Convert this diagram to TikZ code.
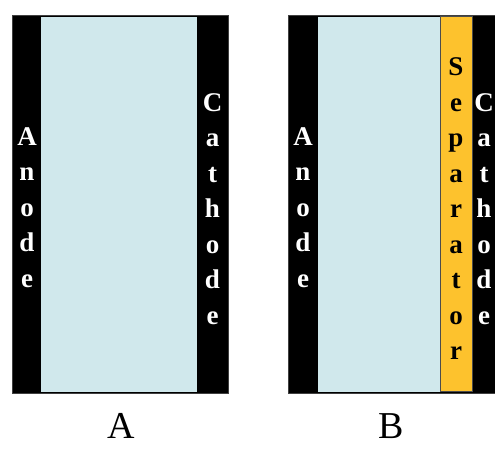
\documentclass[tikz,border=0pt]{standalone}
\usepackage{fontspec}
\setmainfont{Liberation Serif}
\definecolor{elec}{HTML}{D0E8EC}
\definecolor{sep}{HTML}{FDC22D}
\begin{document}
\begin{tikzpicture}[x=1pt,y=-1pt,
  lbl/.style={font=\bfseries\fontsize{27}{30}\selectfont, text=white, inner sep=0pt, anchor=base},
  seplbl/.style={lbl, text=black},
  panellbl/.style={font=\fontsize{38}{40}\selectfont, inner sep=0pt, anchor=base},
  strip/.style={fill=black, draw=black!75, line width=0.8pt}]
\useasboundingbox (0,0) rectangle (495,448);
% Panel A
\filldraw[strip] (12,15) rectangle (228,393);
\fill[elec] (41,16.5) rectangle (197,391.5);
\foreach \ch [count=\i] in {A,n,o,d,e}
  \node[lbl] (aan\i) at (27,{145+35.5*(\i-1)}) {\ch};
\foreach \ch [count=\i] in {C,a,t,h,o,d,e}
  \node[lbl] (aca\i) at (212.5,{111+35.5*(\i-1)}) {\ch};
\node[panellbl] (capA) at (121,438) {A};
% Panel B
\filldraw[strip] (288,15) rectangle (500,393);
\fill[elec] (318,16.5) rectangle (440,391.5);
\filldraw[fill=sep, draw=black!70, line width=0.8pt] (440.5,16.5) rectangle (472,391.5);
\foreach \ch [count=\i] in {A,n,o,d,e}
  \node[lbl] (ban\i) at (303,{145+35.5*(\i-1)}) {\ch};
\foreach \ch [count=\i] in {S,e,p,a,r,a,t,o,r}
  \node[seplbl] (bse\i) at (456,{75.5+35.5*(\i-1)}) {\ch};
\foreach \ch [count=\i] in {C,a,t,h,o,d,e}
  \node[lbl] (bca\i) at (484,{111+35.5*(\i-1)}) {\ch};
\node[panellbl] (capB) at (391,438) {B};
\end{tikzpicture}
\end{document}
